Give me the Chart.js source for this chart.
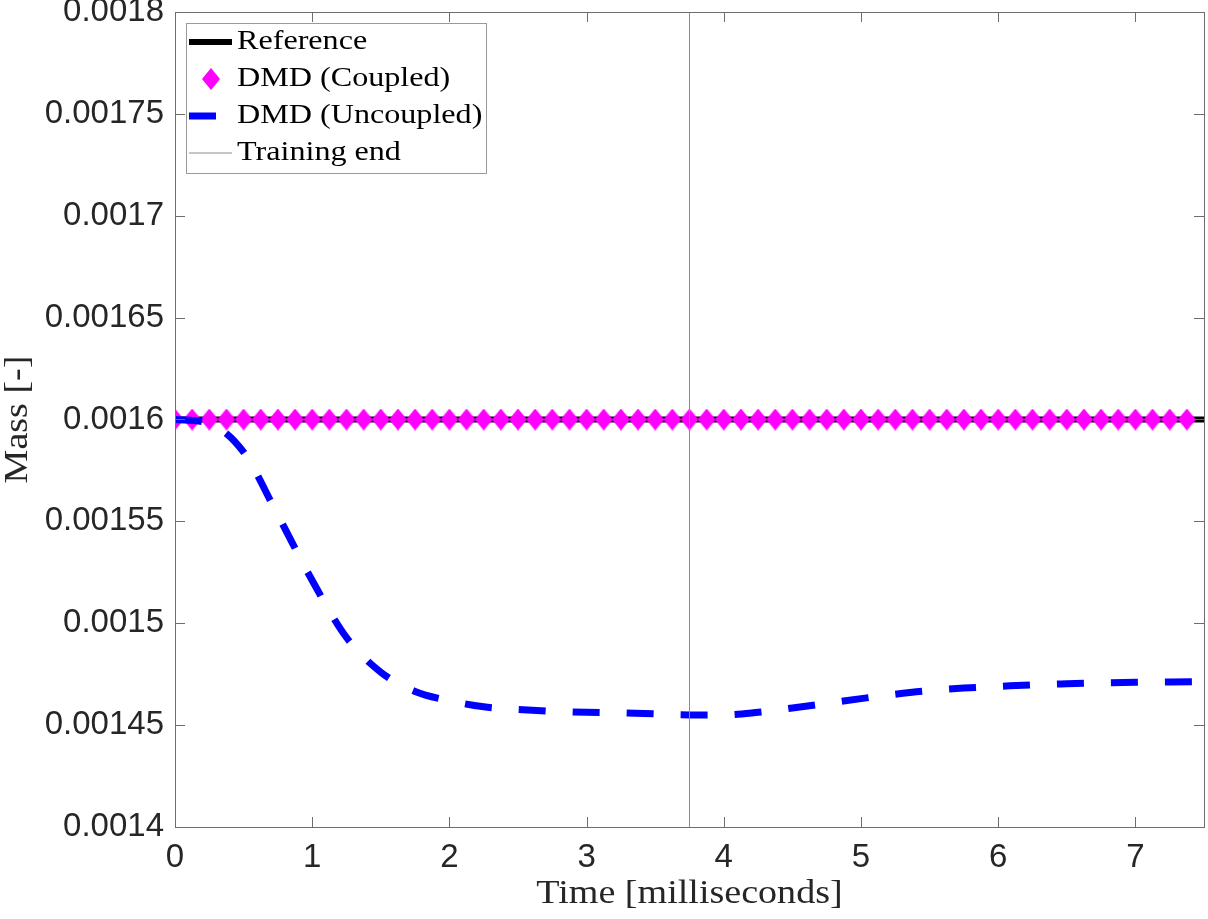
<!DOCTYPE html>
<html>
<head>
<meta charset="utf-8">
<script src="https://cdn.jsdelivr.net/npm/chart.js@4.4.0/dist/chart.umd.min.js"></script>
<style>
  html, body { margin: 0; padding: 0; background: #fff; }
  canvas { display: block; }
</style>
</head>
<body>
<canvas id="massChart" width="1208" height="919"></canvas>
<script>
// time axis in milliseconds, mass dimensionless
const timeReference = [0, 7.5];
const massReference = [0.0016, 0.0016];

const timeCoupled = [
    0, 0.125, 0.25, 0.375, 0.5, 0.625, 0.75, 0.875,
    1, 1.125, 1.25, 1.375, 1.5, 1.625, 1.75, 1.875,
    2, 2.125, 2.25, 2.375, 2.5, 2.625, 2.75, 2.875,
    3, 3.125, 3.25, 3.375, 3.5, 3.625, 3.75, 3.875,
    4, 4.125, 4.25, 4.375, 4.5, 4.625, 4.75, 4.875,
    5, 5.125, 5.25, 5.375, 5.5, 5.625, 5.75, 5.875,
    6, 6.125, 6.25, 6.375, 6.5, 6.625, 6.75, 6.875,
    7, 7.125, 7.25, 7.375
];
const massCoupled = [
    0.0016, 0.0016, 0.0016, 0.0016, 0.0016, 0.0016, 0.0016, 0.0016,
    0.0016, 0.0016, 0.0016, 0.0016, 0.0016, 0.0016, 0.0016, 0.0016,
    0.0016, 0.0016, 0.0016, 0.0016, 0.0016, 0.0016, 0.0016, 0.0016,
    0.0016, 0.0016, 0.0016, 0.0016, 0.0016, 0.0016, 0.0016, 0.0016,
    0.0016, 0.0016, 0.0016, 0.0016, 0.0016, 0.0016, 0.0016, 0.0016,
    0.0016, 0.0016, 0.0016, 0.0016, 0.0016, 0.0016, 0.0016, 0.0016,
    0.0016, 0.0016, 0.0016, 0.0016, 0.0016, 0.0016, 0.0016, 0.0016,
    0.0016, 0.0016, 0.0016, 0.0016
];

const timeUncoupled = [
    0, 0.25, 0.5, 0.75, 1, 1.25, 1.5, 1.75, 2, 2.25, 2.5, 2.75, 3, 3.25, 3.5, 3.75,
    4, 4.25, 4.5, 4.75, 5, 5.25, 5.5, 5.75, 6, 6.25, 6.5, 6.75, 7, 7.25, 7.5
];
const massUncoupled = [
    0.0016, 0.001598, 0.001584, 0.001553, 0.001521, 0.001493, 0.001476, 0.0014665,
    0.001462, 0.001459, 0.0014577, 0.0014568, 0.0014563, 0.001456, 0.0014555, 0.001455,
    0.001455, 0.0014563, 0.0014584, 0.0014607, 0.001463, 0.0014652, 0.001467, 0.0014682,
    0.001469, 0.0014698, 0.0014703, 0.0014707, 0.001471, 0.0014712, 0.0014713
];

const trainingEndTime = [3.75, 3.75];
const trainingEndSpan = [0.0014, 0.0018];

const xTicks = [0, 1, 2, 3, 4, 5, 6, 7];
const yTicks = [0.0014, 0.00145, 0.0015, 0.00155, 0.0016, 0.00165, 0.0017, 0.00175, 0.0018];
const yTickLabels = ['0.0014', '0.00145', '0.0015', '0.00155', '0.0016', '0.00165', '0.0017', '0.00175', '0.0018'];

const legendLabels = ['Reference', 'DMD (Coupled)', 'DMD (Uncoupled)', 'Training end'];

function pairs(xs, ys) {
    return xs.map((x, i) => ({ x: x, y: ys[i] }));
}

// MATLAB-like diamond, a bit taller than wide
function makeDiamond(w, h, color) {
    const c = document.createElement('canvas');
    c.width = w;
    c.height = h;
    const g = c.getContext('2d');
    g.fillStyle = color;
    g.beginPath();
    g.moveTo(w / 2, 0);
    g.lineTo(w, h / 2);
    g.lineTo(w / 2, h);
    g.lineTo(0, h / 2);
    g.closePath();
    g.fill();
    return c;
}
const diamond = makeDiamond(18, 22, '#ff00ff');

const serif = '"Liberation Serif", "DejaVu Serif", serif';
const axisColor = '#6e6e6e';
const textColor = '#262626';

function wideText(ctx, text, x, y, sx, align) {
    ctx.save();
    ctx.translate(x, y);
    ctx.scale(sx, 1);
    ctx.textAlign = align;
    ctx.fillText(text, 0, 0);
    ctx.restore();
}

const matlabAxes = {
    id: 'matlabAxes',
    afterDatasetsDraw(chart) {
        const ctx = chart.ctx;
        const a = chart.chartArea;
        const xs = chart.scales.x, ys = chart.scales.y;
        const tl = 10;
        ctx.save();
        ctx.strokeStyle = axisColor;
        ctx.lineWidth = 1;
        ctx.beginPath();
        xTicks.forEach(v => {
            const px = Math.round(xs.getPixelForValue(v)) + 0.5;
            ctx.moveTo(px, a.bottom);
            ctx.lineTo(px, a.bottom - tl);
            ctx.moveTo(px, a.top);
            ctx.lineTo(px, a.top + tl);
        });
        yTicks.forEach(v => {
            const py = Math.round(ys.getPixelForValue(v)) + 0.5;
            ctx.moveTo(a.left, py);
            ctx.lineTo(a.left + tl, py);
            ctx.moveTo(a.right, py);
            ctx.lineTo(a.right - tl, py);
        });
        ctx.stroke();
        ctx.strokeRect(Math.round(a.left) + 0.5, Math.round(a.top) + 0.5,
            Math.round(a.right - a.left), Math.round(a.bottom - a.top));
        ctx.restore();
    },
    afterDraw(chart) {
        const ctx = chart.ctx;
        const a = chart.chartArea;
        const ds = chart.data.datasets;

        // axis titles
        ctx.save();
        ctx.fillStyle = textColor;
        ctx.font = '34px ' + serif;
        ctx.textBaseline = 'alphabetic';
        wideText(ctx, 'Time [milliseconds]', (a.left + a.right) / 2, 903, 1.12, 'center');
        ctx.translate(27, (a.top + a.bottom) / 2);
        ctx.rotate(-Math.PI / 2);
        wideText(ctx, 'Mass [-]', 0, 0, 1.12, 'center');
        ctx.restore();

        // legend box in the upper left corner
        const bx = 186.5, by = 23.5, bw = 300, bh = 150;
        ctx.save();
        ctx.fillStyle = '#ffffff';
        ctx.fillRect(bx, by, bw, bh);
        ctx.strokeStyle = '#9a9a9a';
        ctx.lineWidth = 1;
        ctx.strokeRect(bx, by, bw, bh);

        const rows = [42, 79, 116, 153];
        ds.forEach((d, i) => {
            const ry = rows[i];
            if (d.pointStyle === diamond) {
                ctx.drawImage(diamond, 211 - 9, ry - 11);
            } else {
                ctx.save();
                ctx.strokeStyle = d.borderColor;
                ctx.lineWidth = d.borderWidth;
                ctx.setLineDash(d.borderDash || []);
                ctx.beginPath();
                ctx.moveTo(189, ry);
                ctx.lineTo(232, ry);
                ctx.stroke();
                ctx.restore();
            }
            ctx.fillStyle = '#000';
            ctx.font = '27px ' + serif;
            ctx.textBaseline = 'alphabetic';
            wideText(ctx, legendLabels[i], 237, ry + 7, 1.19, 'left');
        });
        ctx.restore();
    }
};

const ctx = document.getElementById('massChart').getContext('2d');
const chart = new Chart(ctx, {
    type: 'line',
    data: {
        datasets: [
            {
                label: legendLabels[0],
                data: pairs(timeReference, massReference),
                borderColor: '#000000',
                borderWidth: 6,
                pointRadius: 0,
                order: 3
            },
            {
                label: legendLabels[1],
                data: pairs(timeCoupled, massCoupled),
                showLine: false,
                pointStyle: diamond,
                pointRadius: 10,
                order: 2
            },
            {
                label: legendLabels[2],
                data: pairs(timeUncoupled, massUncoupled),
                borderColor: '#0000ff',
                borderWidth: 7,
                borderDash: [27, 27],
                cubicInterpolationMode: 'monotone',
                pointRadius: 0,
                order: 1
            },
            {
                label: legendLabels[3],
                data: pairs(trainingEndTime, trainingEndSpan),
                borderColor: '#8c8c8c',
                borderWidth: 1,
                pointRadius: 0,
                order: 0
            }
        ]
    },
    options: {
        responsive: false,
        devicePixelRatio: 1,
        animation: false,
        layout: { autoPadding: false, padding: { top: 12, right: 4, left: 0, bottom: 0 } },
        plugins: {
            legend: { display: false },
            tooltip: { enabled: false }
        },
        scales: {
            x: {
                type: 'linear',
                min: 0,
                max: 7.5,
                afterBuildTicks: s => { s.ticks = xTicks.map(v => ({ value: v })); },
                afterFit: s => {
                    s.height = 92;
                    s.paddingLeft = 0;
                    s.paddingRight = 0;
                },
                grid: { display: false, drawTicks: false },
                border: { display: false },
                ticks: {
                    font: { family: '"Liberation Sans", Arial, sans-serif', size: 33 },
                    color: textColor,
                    padding: 11,
                    maxRotation: 0,
                    callback: v => String(v)
                }
            },
            y: {
                type: 'linear',
                min: 0.0014,
                max: 0.0018,
                afterBuildTicks: s => { s.ticks = yTicks.map(v => ({ value: v })); },
                afterFit: s => {
                    s.width = 175;
                    s.paddingTop = 0;
                    s.paddingBottom = 0;
                },
                grid: { display: false, drawTicks: false },
                border: { display: false },
                ticks: {
                    font: { family: '"Liberation Sans", Arial, sans-serif', size: 33 },
                    color: textColor,
                    padding: 11,
                    callback: (v, i) => yTickLabels[i]
                }
            }
        }
    },
    plugins: [matlabAxes]
});
</script>
</body>
</html>
